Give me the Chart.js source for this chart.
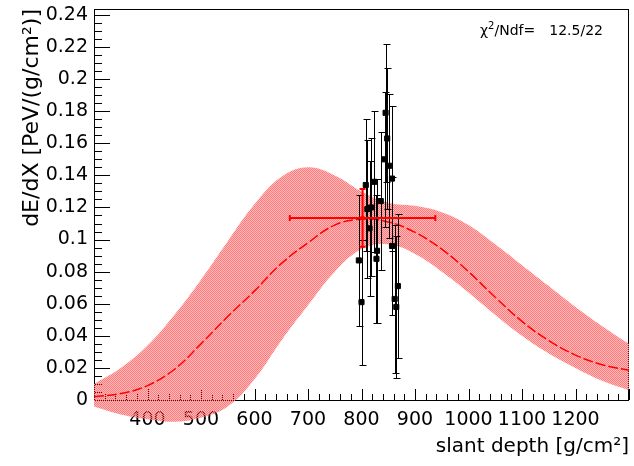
<!DOCTYPE html>
<html>
<head>
<meta charset="utf-8">
<script src="https://cdn.jsdelivr.net/npm/chart.js@4.4.1/dist/chart.umd.min.js"></script>
<style>
  html, body { margin: 0; padding: 0; background: #fff; }
  canvas { display: block; }
</style>
</head>
<body>
<canvas id="profile" width="634" height="466"></canvas>
<script>
// Longitudinal profile: fitted curve with its error band, measured points, shower maximum

// slant depth grid for the fit curve and band [g/cm2]
const depthGrid = [300, 350, 400, 450, 500, 550, 600, 650, 700, 750, 800,
                   850, 900, 950, 1000, 1050, 1100, 1150, 1200, 1250, 1300];
const fitCurve  = [0.002, 0.004, 0.009, 0.019, 0.035, 0.052, 0.068, 0.085, 0.098, 0.109, 0.1127,
                   0.111, 0.1045, 0.094, 0.080, 0.064, 0.049, 0.037, 0.028, 0.022, 0.0186];
const bandUpper = [0.010, 0.020, 0.034, 0.053, 0.075, 0.099, 0.122, 0.139, 0.145, 0.140, 0.130,
                   0.123, 0.121, 0.117, 0.109, 0.097, 0.084, 0.071, 0.058, 0.046, 0.035];
const bandLower = [-0.004, -0.009, -0.012, -0.0135, -0.011, -0.004, 0.013, 0.037, 0.059, 0.080, 0.094,
                   0.097, 0.091, 0.080, 0.067, 0.053, 0.040, 0.029, 0.020, 0.012, 0.006];

// measured dE/dX points
const depthPts = [845, 848, 843, 852, 857, 808, 824, 836, 818, 811,
                  815, 857, 829, 828, 795, 800, 868, 862, 865];
const dEdXPts  = [0.179, 0.163, 0.150, 0.146, 0.138, 0.134, 0.136, 0.124, 0.120, 0.119,
                  0.107, 0.096, 0.093, 0.088, 0.087, 0.061, 0.071, 0.063, 0.058];
const dEdXErr  = [0.043, 0.044, 0.042, 0.045, 0.045, 0.041, 0.044, 0.043, 0.043, 0.043,
                  0.042, 0.043, 0.045, 0.040, 0.041, 0.039, 0.045, 0.046, 0.044];

// shower maximum from the fit
const xmaxDepth = [802];
const xmaxVal   = [0.1135];
const xmaxErrX  = [136];
const xmaxErrY  = [0.018];

const xTickValues = [400, 500, 600, 700, 800, 900, 1000, 1100, 1200];
const yTickValues = [0, 0.02, 0.04, 0.06, 0.08, 0.1, 0.12, 0.14, 0.16, 0.18, 0.2, 0.22, 0.24];
const fitChi2 = '12.5';
const fitNdf = '22';

const FONT = 'DejaVu Sans';

function pairs(xs, ys) {
    return xs.map((x, i) => ({ x: x, y: ys[i] }));
}

// fine checker pattern for the band
function bandPattern(ctx) {
    const c = document.createElement('canvas');
    c.width = 2;
    c.height = 2;
    const g = c.getContext('2d');
    g.fillStyle = 'rgba(255, 60, 60, 0.35)';
    g.fillRect(0, 0, 2, 2);
    g.clearRect(0, 0, 1, 1);
    g.clearRect(1, 1, 1, 1);
    g.fillStyle = '#ff7a7a';
    g.fillRect(0, 0, 1, 1);
    g.fillRect(1, 1, 1, 1);
    return ctx.createPattern(c, 'repeat');
}

const frameAndMarks = {
    id: 'frameAndMarks',
    beforeDatasetsDraw(chart) {
        const ctx = chart.ctx;
        const area = chart.chartArea;
        const xs = chart.scales.x;
        const ys = chart.scales.y;

        // frame with inward ticks
        ctx.save();
        ctx.strokeStyle = '#000';
        ctx.lineWidth = 1;
        ctx.strokeRect(Math.round(area.left) + 0.5, Math.round(area.top) + 0.5,
                       Math.round(area.right - area.left) - 1, Math.round(area.bottom - area.top));
        ctx.beginPath();
        for (let v = 300; v <= 1300; v += 20) {
            const px = Math.round(xs.getPixelForValue(v)) + 0.5;
            const len = v % 100 === 0 ? 11 : 6;
            ctx.moveTo(px, area.bottom);
            ctx.lineTo(px, area.bottom - len);
        }
        for (let k = 0; k <= 48; k++) {
            const py = Math.round(ys.getPixelForValue(k * 0.005)) + 0.5;
            const len = k % 4 === 0 ? 16 : 8;
            ctx.moveTo(area.left, py);
            ctx.lineTo(area.left + len, py);
        }
        ctx.stroke();
        ctx.restore();

        // error band, left unclipped so it runs below the axis
        const up = chart.getDatasetMeta(0).dataset;
        const lo = chart.getDatasetMeta(1).dataset;
        up.updateControlPoints(area, 'x');
        lo.updateControlPoints(area, 'x');
        ctx.save();
        ctx.beginPath();
        up.pathSegment(ctx, up.segments[0], { move: true });
        lo.pathSegment(ctx, lo.segments[0], { move: false, reverse: true });
        ctx.closePath();
        ctx.fillStyle = bandPattern(ctx);
        ctx.fill();
        ctx.restore();
    },
    beforeDatasetDraw(chart, args) {
        const ctx = chart.ctx;
        const xs = chart.scales.x;
        const ys = chart.scales.y;
        if (args.index === 3) {
            ctx.save();
            ctx.strokeStyle = '#000';
            ctx.lineWidth = 1;
            ctx.beginPath();
            depthPts.forEach((d, i) => {
                const px = Math.round(xs.getPixelForValue(d)) + 0.5;
                const y1 = Math.round(ys.getPixelForValue(dEdXPts[i] + dEdXErr[i])) + 0.5;
                const y2 = Math.round(ys.getPixelForValue(dEdXPts[i] - dEdXErr[i])) + 0.5;
                ctx.moveTo(px, y1);
                ctx.lineTo(px, y2);
                ctx.moveTo(px - 3, y1);
                ctx.lineTo(px + 4, y1);
                ctx.moveTo(px - 3, y2);
                ctx.lineTo(px + 4, y2);
            });
            ctx.stroke();
            ctx.restore();
        }
        if (args.index === 4) {
            ctx.save();
            ctx.strokeStyle = '#ff0000';
            ctx.lineWidth = 2;
            ctx.beginPath();
            xmaxDepth.forEach((d, i) => {
                const px = xs.getPixelForValue(d);
                const py = ys.getPixelForValue(xmaxVal[i]);
                const x1 = xs.getPixelForValue(d - xmaxErrX[i]);
                const x2 = xs.getPixelForValue(d + xmaxErrX[i]);
                const y1 = ys.getPixelForValue(xmaxVal[i] + xmaxErrY[i]);
                const y2 = ys.getPixelForValue(xmaxVal[i] - xmaxErrY[i]);
                ctx.moveTo(x1, py);
                ctx.lineTo(x2, py);
                ctx.moveTo(x1, py - 3);
                ctx.lineTo(x1, py + 3);
                ctx.moveTo(x2, py - 3);
                ctx.lineTo(x2, py + 3);
                ctx.moveTo(px, y1);
                ctx.lineTo(px, y2);
                ctx.moveTo(px - 3, y1);
                ctx.lineTo(px + 3, y1);
                ctx.moveTo(px - 3, y2);
                ctx.lineTo(px + 3, y2);
            });
            ctx.stroke();
            ctx.restore();
        }
    },
    afterDraw(chart) {
        // fit quality in the top right corner
        const ctx = chart.ctx;
        const y = 35;
        let x = 480;
        ctx.save();
        ctx.fillStyle = '#000';
        ctx.font = '14px ' + FONT;
        ctx.fillText('\u03c7', x, y);
        x += ctx.measureText('\u03c7').width;
        ctx.font = '10px ' + FONT;
        ctx.fillText('2', x, y - 6);
        x += ctx.measureText('2').width;
        ctx.font = '14px ' + FONT;
        ctx.fillText('/Ndf=', x, y);
        ctx.textAlign = 'right';
        ctx.fillText(fitChi2 + '/' + fitNdf, 603, y);
        ctx.restore();
    }
};

new Chart(document.getElementById('profile'), {
    type: 'line',
    data: {
        datasets: [
            {
                data: pairs(depthGrid, bandUpper),
                borderWidth: 0, pointRadius: 0,
                tension: 0.4, capBezierPoints: false,
                order: 6
            },
            {
                data: pairs(depthGrid, bandLower),
                borderWidth: 0, pointRadius: 0,
                tension: 0.4, capBezierPoints: false,
                order: 5
            },
            {
                data: pairs(depthGrid, fitCurve),
                borderColor: '#ff0000', borderWidth: 1.5, borderDash: [10, 3],
                pointRadius: 0, tension: 0.4,
                order: 4
            },
            {
                data: pairs(depthPts, dEdXPts),
                showLine: false,
                pointStyle: 'rect', pointRadius: 3.6, pointBorderWidth: 1,
                pointBackgroundColor: '#000', pointBorderColor: '#000',
                order: 2
            },
            {
                data: pairs(xmaxDepth, xmaxVal),
                showLine: false,
                pointStyle: 'rect', pointRadius: 2, pointBorderWidth: 1,
                pointBackgroundColor: '#ff0000', pointBorderColor: '#ff0000',
                order: 1
            }
        ]
    },
    options: {
        responsive: false,
        animation: false,
        events: [],
        layout: { padding: { top: 9, right: 3, left: 0, bottom: 0 } },
        plugins: {
            legend: { display: false },
            tooltip: { enabled: false }
        },
        scales: {
            x: {
                type: 'linear',
                min: 300,
                max: 1300,
                z: 1,
                afterBuildTicks: s => { s.ticks = xTickValues.map(v => ({ value: v })); },
                afterFit: s => {
                    s.height = 66;
                    s.paddingLeft = 0; s.paddingRight = 0;
                },
                grid: { display: false, drawTicks: false },
                border: { display: false },
                ticks: {
                    color: '#000',
                    font: { family: FONT, size: 19 },
                    padding: 9,
                    maxRotation: 0,
                    autoSkip: false,
                    callback: v => String(v)
                },
                title: {
                    display: true,
                    text: 'slant depth [g/cm\u00b2]',
                    align: 'end',
                    color: '#000',
                    font: { family: FONT, size: 20 },
                    padding: { top: 0, bottom: 7 }
                }
            },
            y: {
                type: 'linear',
                min: 0,
                max: 0.2437,
                afterBuildTicks: s => { s.ticks = yTickValues.map(v => ({ value: v })); },
                afterFit: s => {
                    s.width = 94;
                    s.paddingTop = 0; s.paddingBottom = 0;
                },
                grid: { display: false, drawTicks: false },
                border: { display: false },
                ticks: {
                    color: '#000',
                    font: { family: FONT, size: 19 },
                    padding: 6,
                    autoSkip: false,
                    callback: v => String(+v.toFixed(2))
                },
                title: {
                    display: true,
                    text: 'dE/dX [PeV/(g/cm\u00b2)]',
                    align: 'end',
                    color: '#000',
                    font: { family: FONT, size: 22 },
                    padding: { top: 19, bottom: 0 }
                }
            }
        }
    },
    plugins: [frameAndMarks]
});
</script>
</body>
</html>
